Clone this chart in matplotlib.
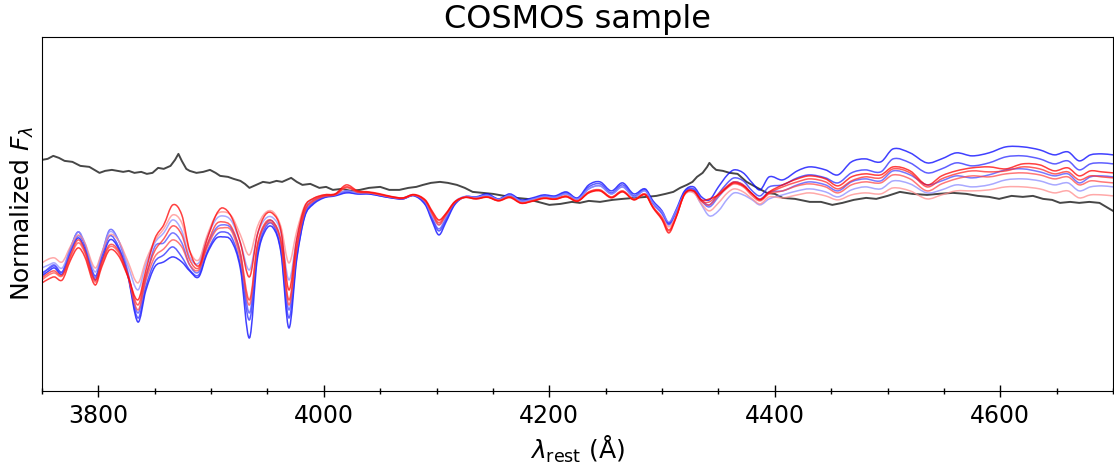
import numpy as np
import matplotlib
matplotlib.use("Agg")
import matplotlib.pyplot as plt
from matplotlib.path import Path
from matplotlib.patches import PathPatch
from matplotlib.ticker import MultipleLocator

# shared wavelength grid (rest frame, Angstrom)
wave_blue = [3750, 3756, 3761, 3768, 3775, 3782, 3788, 3797, 3803, 3810, 3818, 3826,
             3835, 3842, 3850, 3858, 3866, 3874, 3881, 3889, 3896, 3904, 3910, 3918,
             3926, 3934, 3941, 3948, 3955, 3962, 3969, 3976, 3983, 3990, 4000]
wave_mid = [4010, 4020, 4030, 4040, 4050, 4060, 4070, 4080, 4090, 4096, 4102, 4108,
            4116, 4125, 4135, 4145, 4155, 4165, 4175, 4185, 4195, 4205, 4215, 4225,
            4235, 4245, 4255, 4265, 4275, 4285, 4292, 4300, 4306, 4312, 4320, 4328,
            4335, 4342, 4350, 4358, 4364, 4372, 4380, 4387, 4395]
wave_red = [4407, 4420, 4431, 4445, 4456, 4468, 4480, 4494, 4505, 4520, 4535, 4548,
            4561, 4575, 4590, 4605, 4620, 4635, 4648, 4660, 4670, 4680, 4690, 4700]
wave = wave_blue + wave_mid + wave_red

# normalized flux of each stacked spectrum
spec_a = [0.575, 0.6, 0.615, 0.585, 0.69, 0.765, 0.71, 0.555, 0.65, 0.755, 0.71, 0.58,
          0.345, 0.5, 0.62, 0.645, 0.67, 0.645, 0.6, 0.57, 0.68, 0.76, 0.77, 0.75,
          0.61, 0.265, 0.66, 0.8, 0.815, 0.69, 0.315, 0.66, 0.87, 0.93, 0.965,
          0.975, 0.99, 0.985, 0.985, 0.975, 0.965, 0.96, 0.975, 0.93, 0.85, 0.78, 0.84,
          0.93, 0.97, 0.97, 0.985, 0.96, 0.985, 0.955, 0.965, 0.98, 0.975, 0.995, 0.965,
          1.03, 1.045, 1.0, 1.04, 0.985, 1.01, 0.95, 0.9, 0.84, 0.9, 1.0, 1.02,
          0.97, 0.955, 1.02, 1.08, 1.105, 1.09, 1.04, 1.005, 1.07,
          1.055, 1.1, 1.12, 1.105, 1.08, 1.145, 1.16, 1.145, 1.21, 1.19, 1.14, 1.16,
          1.19, 1.175, 1.19, 1.22, 1.22, 1.205, 1.18, 1.195, 1.15, 1.18, 1.185, 1.18]
spec_b = [0.59, 0.61, 0.625, 0.595, 0.71, 0.795, 0.73, 0.575, 0.67, 0.775, 0.72, 0.585,
          0.365, 0.52, 0.645, 0.68, 0.72, 0.67, 0.605, 0.58, 0.69, 0.775, 0.795, 0.77,
          0.63, 0.355, 0.68, 0.815, 0.83, 0.7, 0.365, 0.67, 0.875, 0.935, 0.968,
          0.978, 0.995, 0.985, 0.985, 0.975, 0.965, 0.96, 0.978, 0.935, 0.86, 0.8, 0.85,
          0.935, 0.97, 0.968, 0.98, 0.958, 0.98, 0.95, 0.96, 0.975, 0.97, 0.99, 0.962,
          1.02, 1.035, 0.99, 1.03, 0.975, 1.005, 0.94, 0.89, 0.835, 0.89, 0.995, 1.01,
          0.955, 0.93, 0.985, 1.04, 1.065, 1.05, 1.0, 0.975, 1.02,
          1.03, 1.065, 1.08, 1.065, 1.04, 1.09, 1.105, 1.095, 1.16, 1.14, 1.09, 1.11,
          1.14, 1.125, 1.14, 1.17, 1.175, 1.16, 1.135, 1.15, 1.105, 1.135, 1.14, 1.135]
spec_c = [0.54, 0.56, 0.57, 0.555, 0.65, 0.715, 0.67, 0.53, 0.62, 0.705, 0.675, 0.575,
          0.455, 0.6, 0.76, 0.83, 0.93, 0.88, 0.7, 0.625, 0.75, 0.875, 0.915, 0.87,
          0.74, 0.57, 0.78, 0.88, 0.885, 0.8, 0.505, 0.76, 0.92, 0.96, 0.98,
          0.985, 1.03, 1.0, 0.995, 0.985, 0.972, 0.965, 0.982, 0.955, 0.9, 0.855, 0.885,
          0.945, 0.968, 0.96, 0.968, 0.95, 0.966, 0.938, 0.948, 0.962, 0.958, 0.97, 0.948,
          0.99, 1.0, 0.965, 0.995, 0.955, 0.98, 0.915, 0.855, 0.79, 0.86, 0.985, 1.0,
          0.955, 0.96, 0.98, 1.02, 1.04, 1.025, 0.985, 0.955, 0.995,
          1.03, 1.06, 1.075, 1.06, 1.025, 1.07, 1.085, 1.08, 1.12, 1.1, 1.03, 1.075,
          1.1, 1.115, 1.12, 1.11, 1.135, 1.13, 1.1, 1.115, 1.075, 1.1, 1.095, 1.09]
spec_d = [0.565, 0.59, 0.6, 0.58, 0.675, 0.755, 0.7, 0.555, 0.645, 0.73, 0.7, 0.585,
          0.43, 0.575, 0.7, 0.76, 0.825, 0.78, 0.655, 0.615, 0.725, 0.83, 0.845, 0.82,
          0.69, 0.455, 0.73, 0.84, 0.845, 0.75, 0.455, 0.72, 0.9, 0.95, 0.975,
          0.982, 1.02, 0.995, 0.992, 0.982, 0.97, 0.963, 0.98, 0.95, 0.89, 0.84, 0.88,
          0.942, 0.968, 0.962, 0.97, 0.952, 0.97, 0.94, 0.95, 0.965, 0.96, 0.975, 0.95,
          0.995, 1.005, 0.97, 1.0, 0.958, 0.985, 0.92, 0.865, 0.805, 0.865, 0.985, 1.0,
          0.95, 0.945, 0.985, 1.025, 1.045, 1.03, 0.985, 0.958, 0.99,
          1.02, 1.045, 1.06, 1.045, 1.01, 1.05, 1.07, 1.065, 1.11, 1.09, 1.02, 1.06,
          1.085, 1.1, 1.095, 1.1, 1.12, 1.11, 1.085, 1.095, 1.055, 1.075, 1.07, 1.065]
spec_e = [0.58, 0.615, 0.63, 0.595, 0.7, 0.775, 0.73, 0.565, 0.68, 0.805, 0.75, 0.6,
          0.39, 0.56, 0.72, 0.74, 0.79, 0.74, 0.63, 0.595, 0.72, 0.81, 0.83, 0.81,
          0.68, 0.39, 0.71, 0.83, 0.845, 0.73, 0.405, 0.7, 0.885, 0.94, 0.97,
          0.98, 1.0, 0.99, 0.99, 0.978, 0.968, 0.962, 0.978, 0.94, 0.865, 0.81, 0.86,
          0.94, 0.97, 0.966, 0.977, 0.956, 0.977, 0.948, 0.957, 0.972, 0.967, 0.985, 0.958,
          1.01, 1.025, 0.985, 1.02, 0.97, 1.0, 0.935, 0.885, 0.83, 0.885, 0.99, 1.005,
          0.95, 0.92, 0.97, 1.02, 1.045, 1.03, 0.985, 0.96, 0.995,
          1.0, 1.03, 1.045, 1.03, 1.0, 1.045, 1.06, 1.05, 1.1, 1.08, 1.03, 1.05,
          1.075, 1.065, 1.08, 1.105, 1.11, 1.095, 1.075, 1.085, 1.04, 1.07, 1.075, 1.07]
spec_f = [0.615, 0.63, 0.64, 0.615, 0.71, 0.795, 0.74, 0.595, 0.69, 0.795, 0.75, 0.63,
          0.505, 0.63, 0.74, 0.79, 0.855, 0.8, 0.67, 0.64, 0.76, 0.855, 0.875, 0.85,
          0.74, 0.605, 0.78, 0.86, 0.865, 0.79, 0.555, 0.76, 0.91, 0.955, 0.975,
          0.982, 1.0, 0.99, 0.99, 0.98, 0.97, 0.965, 0.98, 0.945, 0.875, 0.83, 0.87,
          0.945, 0.972, 0.968, 0.978, 0.958, 0.978, 0.95, 0.958, 0.972, 0.968, 0.985, 0.96,
          1.01, 1.025, 0.985, 1.02, 0.97, 1.0, 0.94, 0.895, 0.845, 0.895, 0.985, 0.995,
          0.93, 0.875, 0.9, 0.96, 0.99, 0.98, 0.955, 0.93, 0.96,
          0.98, 1.0, 1.01, 0.995, 0.97, 1.005, 1.02, 1.01, 1.05, 1.035, 0.99, 1.005,
          1.03, 1.02, 1.03, 1.055, 1.06, 1.05, 1.03, 1.04, 1.0, 1.02, 1.025, 1.02]
spec_g = [0.64, 0.66, 0.665, 0.645, 0.72, 0.78, 0.74, 0.615, 0.69, 0.78, 0.75, 0.65,
          0.54, 0.65, 0.75, 0.81, 0.88, 0.84, 0.7, 0.655, 0.77, 0.875, 0.895, 0.875,
          0.78, 0.68, 0.82, 0.89, 0.895, 0.82, 0.64, 0.8, 0.925, 0.96, 0.98,
          0.985, 1.02, 0.998, 0.992, 0.982, 0.97, 0.965, 0.98, 0.952, 0.895, 0.85, 0.885,
          0.945, 0.968, 0.962, 0.97, 0.952, 0.97, 0.942, 0.952, 0.965, 0.96, 0.972, 0.952,
          0.99, 1.0, 0.968, 0.995, 0.958, 0.982, 0.92, 0.87, 0.82, 0.87, 0.98, 0.99,
          0.935, 0.9, 0.94, 0.99, 1.01, 0.995, 0.96, 0.935, 0.97,
          0.965, 0.98, 0.99, 0.975, 0.955, 0.98, 0.99, 0.985, 1.015, 1.0, 0.96, 0.98,
          1.0, 1.0, 1.005, 1.02, 1.02, 1.01, 0.99, 1.0, 0.965, 0.98, 0.98, 0.975]
spec_h = [0.555, 0.58, 0.59, 0.575, 0.665, 0.74, 0.69, 0.545, 0.635, 0.72, 0.69, 0.575,
          0.405, 0.55, 0.67, 0.71, 0.755, 0.72, 0.63, 0.605, 0.71, 0.8, 0.815, 0.8,
          0.66, 0.43, 0.72, 0.83, 0.835, 0.74, 0.43, 0.71, 0.895, 0.945, 0.972,
          0.98, 1.015, 0.993, 0.99, 0.98, 0.968, 0.962, 0.978, 0.948, 0.885, 0.83, 0.875,
          0.94, 0.966, 0.96, 0.97, 0.952, 0.97, 0.94, 0.95, 0.963, 0.958, 0.972, 0.95,
          0.993, 1.003, 0.968, 0.998, 0.956, 0.982, 0.918, 0.86, 0.8, 0.862, 0.982, 0.998,
          0.948, 0.93, 0.975, 1.015, 1.035, 1.02, 0.975, 0.95, 0.985,
          1.0, 1.025, 1.035, 1.02, 0.99, 1.03, 1.045, 1.04, 1.08, 1.06, 1.0, 1.035,
          1.06, 1.075, 1.07, 1.085, 1.09, 1.08, 1.06, 1.07, 1.03, 1.05, 1.045, 1.04]

spectra = [spec_a, spec_b, spec_e, spec_f, spec_g, spec_h, spec_d, spec_c]
colors = ["#0000ff", "#2a2aff", "#4b4bff", "#8c8cff", "#ff8c8c", "#ff4b4b", "#ff2a2a", "#ff0000"]

# comparison spectrum (dark grey)
ref_wave = [3750, 3755, 3760, 3765, 3770, 3777, 3784, 3792, 3801, 3806, 3812, 3817,
            3822, 3827, 3832, 3838, 3843, 3848, 3853, 3858, 3864, 3868, 3871, 3874,
            3878, 3881, 3887, 3893, 3899, 3904, 3908, 3915, 3920, 3926, 3930, 3934,
            3940, 3946, 3952, 3958, 3963, 3967, 3971, 3976, 3981, 3988, 3996, 4002,
            4008, 4016, 4024, 4032, 4040, 4050, 4058, 4067, 4075, 4082, 4088, 4095,
            4103, 4110, 4118, 4125, 4132, 4141, 4150, 4160, 4171, 4180, 4190, 4200,
            4210, 4220, 4227, 4235, 4245, 4256, 4265, 4276, 4286, 4295, 4303, 4310,
            4316, 4322, 4327, 4331, 4336, 4340, 4342, 4345, 4348, 4354, 4360, 4367,
            4375, 4383, 4393, 4400, 4407, 4418, 4431, 4441, 4451, 4460, 4470, 4481,
            4490, 4500, 4511, 4522, 4535, 4545, 4558, 4570, 4580, 4590, 4599, 4610,
            4620, 4629, 4638, 4646, 4653, 4662, 4670, 4679, 4688, 4694, 4700]
ref_flux = [1.155, 1.16, 1.175, 1.165, 1.15, 1.145, 1.125, 1.12, 1.09, 1.1, 1.105, 1.1,
            1.095, 1.1, 1.09, 1.095, 1.085, 1.09, 1.115, 1.11, 1.125, 1.155, 1.185, 1.15,
            1.11, 1.1, 1.09, 1.095, 1.105, 1.09, 1.075, 1.07, 1.06, 1.05, 1.035, 1.015,
            1.03, 1.045, 1.04, 1.05, 1.045, 1.055, 1.065, 1.045, 1.03, 1.035, 1.015, 1.02,
            1.005, 1.01, 1.0, 1.005, 1.015, 1.02, 1.005, 1.005, 1.015, 1.02, 1.03, 1.04,
            1.045, 1.04, 1.03, 1.015, 0.995, 0.99, 0.985, 0.975, 0.965, 0.96, 0.945, 0.93,
            0.935, 0.945, 0.94, 0.95, 0.945, 0.955, 0.96, 0.965, 0.97, 0.975, 0.985, 0.995,
            1.015, 1.03, 1.045, 1.07, 1.09, 1.12, 1.14, 1.12, 1.105, 1.1, 1.09, 1.085,
            1.045, 1.02, 0.99, 0.985, 0.965, 0.96, 0.945, 0.945, 0.93, 0.94, 0.955, 0.965,
            0.96, 0.975, 0.995, 0.985, 0.98, 0.985, 0.99, 0.985, 0.975, 0.97, 0.96, 0.975,
            0.97, 0.975, 0.96, 0.955, 0.94, 0.945, 0.94, 0.945, 0.94, 0.92, 0.9]


def smooth_line(ax, x, y, **kw):
    # cubic Bezier segments through the given points (drawn by matplotlib's Path)
    x = np.asarray(x, float)
    y = np.asarray(y, float)
    d = np.empty_like(y)
    d[1:-1] = (y[2:] - y[:-2]) / (x[2:] - x[:-2])
    d[0] = (y[1] - y[0]) / (x[1] - x[0])
    d[-1] = (y[-1] - y[-2]) / (x[-1] - x[-2])
    verts = [(x[0], y[0])]
    codes = [Path.MOVETO]
    for i in range(len(x) - 1):
        h = x[i + 1] - x[i]
        verts += [(x[i] + h / 3, y[i] + d[i] * h / 3),
                  (x[i + 1] - h / 3, y[i + 1] - d[i + 1] * h / 3),
                  (x[i + 1], y[i + 1])]
        codes += [Path.CURVE4] * 3
    ax.add_patch(PathPatch(Path(verts, codes), fill=False, **kw))


fig = plt.figure(figsize=(11.14, 4.66), dpi=100)
ax = fig.add_axes([0.0377, 0.161, 0.9614, 0.760])

ax.plot(ref_wave, ref_flux, color="#333333", lw=1.4, alpha=0.9, zorder=1)
for flux, c in zip(spectra, colors):
    smooth_line(ax, wave, flux, edgecolor=c, lw=1.1, alpha=0.75, zorder=2)

ax.set_xlim(3750, 4700)
ax.set_ylim(0.0, 1.77)
ax.set_yticks([])
ax.xaxis.set_minor_locator(MultipleLocator(50))
ax.tick_params(axis="x", which="major", direction="inout", length=9, width=1, labelsize=17, pad=5)
ax.tick_params(axis="x", which="minor", direction="inout", length=5, width=1)

ax.set_title("COSMOS sample", fontsize=23)
ax.set_xlabel(r"$\lambda_{\rm rest}$ (Å)", fontsize=18)
ax.set_ylabel(r"Normalized $F_{\lambda}$", fontsize=18)

fig.savefig("out.png", dpi=100)
